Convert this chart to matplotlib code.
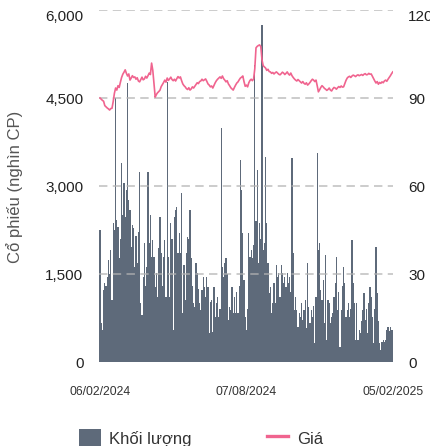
import matplotlib
matplotlib.use("Agg")
import matplotlib.pyplot as plt
from matplotlib.patches import Patch
from matplotlib.lines import Line2D
from matplotlib.ticker import FuncFormatter

plt.rcParams['font.family'] = ['Liberation Sans', 'DejaVu Sans']

# ---------------- data ----------------
date_labels = ["06/02/2024", "07/08/2024", "05/02/2025"]

# khoi luong (nghin CP), one value per trading day
volume = [
    2250, 660, 545, 1230, 1350, 1300, 1450, 1740, 1500, 1910,
    1060, 2370, 2250, 4500, 2420, 2300, 1770, 2100, 3390, 2500,
    3050, 2470, 2930, 4760, 2760, 2590, 1960, 2340, 2280, 1620,
    2150, 1690, 2220, 3240, 1000, 800, 1450, 2030, 1300, 1620,
    3240, 2030, 2510, 1790, 2080, 1790, 1280, 1520, 1110, 1950,
    2470, 1850, 1300, 1790, 2080, 1110, 4770, 1790, 1110,
    2370, 2100, 545, 2470, 2590, 2640, 1860, 2200, 1860, 2880,
    830, 1650, 1060, 1860, 2130, 2100, 2590, 1770, 1300, 1000,
    940, 1690, 1520, 1250, 1000, 890, 1230, 1450, 1280, 1100,
    1450, 1280, 500, 1020, 1060, 510, 1280, 770, 1000, 1100,
    770, 900, 3990, 1620, 1450, 1690, 1770, 1500, 720, 940,
    890, 1280, 830, 1100, 830, 1200, 830, 1300, 3440, 2930,
    2200, 1400, 770, 545, 900, 2200,
    1790, 1910, 1770, 2000, 5060, 2400, 3270, 1690, 2370, 2100,
    5750, 1910, 2030, 3500, 2370, 1690, 1180, 1280, 830, 1000,
    1350, 1000, 1650, 1450, 1520, 1100, 1650, 1520, 1350, 1450,
    1280, 1520, 1350, 1450, 1200, 3480, 1860, 890, 1100, 890,
    600, 830, 770, 1000, 720, 890, 1050, 580, 1690, 940,
    660, 890, 770, 950, 320, 1100, 3560, 1910, 2030, 1230,
    1060, 1400,
    660, 1820, 375, 1060, 1000, 660, 770, 830, 1100, 1350,
    1790, 890, 1200, 255, 890, 1300, 1620, 1350, 770, 890,
    1000, 770, 900, 2080, 1350, 1000, 375, 1000, 375, 545,
    500, 700, 890, 1180, 720, 900, 500, 1000, 1280, 1100,
    770, 320, 900, 1960, 1180, 700, 320, 200, 340, 375,
    340, 375, 545, 600, 520, 600, 545, 545,
]

# gia (nghin dong)
price = [
    90.0, 89.6, 89.2, 88.9, 87.4, 87.0, 86.6, 86.3, 85.9, 86.4,
    86.5, 88.8, 91.6, 93.4, 92.7, 94.2, 93.6, 95.4, 97.0, 98.1,
    98.8, 99.6, 98.4, 97.5, 98.2, 96.1, 96.8, 97.6, 97.0, 97.2,
    96.4, 96.9, 95.8, 95.5, 96.3, 97.1, 96.2, 96.5, 97.4, 96.8,
    97.6, 98.5, 98.0, 101.9, 99.4, 94.8, 90.3, 91.2, 91.8, 92.2,
    92.7, 93.9, 94.6, 95.3, 96.1, 95.4, 96.8, 96.0, 96.5, 97.1,
    96.3, 95.9, 96.4, 95.8, 96.6, 97.3, 96.8, 97.2, 95.9, 94.8,
    94.2, 93.8, 93.2, 92.9, 93.5, 92.7, 93.1, 93.8, 93.4, 94.0,
    94.6, 95.2, 94.9, 95.6, 95.8, 96.4, 95.9, 96.2, 96.5, 95.7,
    94.8, 94.4, 93.8, 94.1, 93.4, 94.3, 95.2, 95.9, 96.4, 96.8,
    97.2, 96.7, 97.5, 96.6, 96.1, 95.5, 95.9, 94.8, 94.2, 93.5,
    93.1, 92.7, 93.6, 94.4, 95.1, 95.5, 96.2, 96.8, 97.1, 97.5,
    95.6, 94.0, 94.4, 93.8, 95.2, 96.0, 96.4, 95.9, 96.5, 100.0,
    107.1, 107.6, 107.9, 108.1, 107.5, 103.0, 101.0, 100.6, 100.2, 99.4,
    99.8, 99.0, 98.9, 98.4, 98.7, 98.2, 98.6, 98.9, 98.5, 98.1,
    97.9, 98.3, 98.8, 98.5, 98.0, 98.4, 98.9, 98.2, 97.8, 98.5,
    97.6, 97.0, 96.5, 96.1, 95.8, 96.3, 95.9, 95.5, 95.1, 95.6,
    95.0, 94.7, 95.2, 94.4, 94.8, 95.3, 95.9, 96.4, 96.1, 95.6,
    96.1, 94.2, 92.1, 92.8, 93.6, 94.2, 93.8, 93.3, 93.0, 92.6,
    92.9, 93.4, 92.7, 92.4, 93.1, 93.6, 93.4, 93.0, 93.5, 93.9,
    93.6, 94.1, 93.7, 93.8, 94.9, 96.0, 96.8, 97.2, 97.4, 97.0,
    97.5, 97.8, 97.6, 97.3, 97.7, 97.9, 97.6, 97.8, 98.0, 97.7,
    98.1, 98.3, 97.9, 98.0, 98.4, 98.1, 98.2, 97.4, 96.6, 95.8,
    95.1, 95.6, 94.7, 95.3, 95.0, 95.5, 95.2, 95.8, 96.1, 95.7,
    96.4, 97.0, 97.6, 98.3, 98.9,
]

vol_ticks = [0, 1500, 3000, 4500, 6000]
price_ticks = [0, 30, 60, 90, 120]

bar_col = '#5e6a7a'
line_col = '#f0648f'
grid_col = '#b3b3b3'

n = len(volume)
x = list(range(n))

# ---------------- figure ----------------
fig = plt.figure(figsize=(4.31, 4.46), dpi=100)
ax = fig.add_axes([99.4 / 431, 1 - 362 / 446, 294 / 431, 352 / 446])

ax.bar(x, volume, width=0.85, color=bar_col, linewidth=0, zorder=1)
ax.set_xlim(-0.5, n - 0.5)
ax.set_ylim(0, 6000)
ax.set_yticks(vol_ticks)
ax.yaxis.set_major_formatter(FuncFormatter(lambda v, p: f"{int(v):,}"))

# dashed gridlines on top of the bars
for v in vol_ticks[1:]:
    ax.axhline(v, color=grid_col, lw=1.1, ls=(0, (5.5, 3.5)), alpha=0.85, zorder=2)

ax.set_xticks([0, n // 2, n - 1])
ax.set_xticklabels(date_labels)
ax.tick_params(axis='x', length=0, pad=17, labelsize=8.8, labelcolor='#333333')
ax.tick_params(axis='y', length=0, pad=11.5, labelsize=11, labelcolor='#222222')
for s in ax.spines.values():
    s.set_visible(False)

ax2 = ax.twinx()
ax2.plot(x, price, color=line_col, lw=1.2, zorder=3)
ax2.set_ylim(0, 120)
ax2.set_yticks(price_ticks)
ax2.tick_params(axis='y', length=0, pad=10.5, labelsize=11, labelcolor='#222222')
for s in ax2.spines.values():
    s.set_visible(False)

# top labels sit a little below the top line
ax.get_yticklabels()[-1].set_va('top')
ax2.get_yticklabels()[-1].set_va('top')

fig.text(15 / 431, 1 - 187 / 446, "Cổ phiếu (nghìn CP)", rotation=90,
         ha='center', va='center', fontsize=12, color='#555555')

handles = [Patch(facecolor=bar_col, edgecolor='none'),
           Line2D([0], [0], color=line_col, lw=2.4)]
fig.legend(handles, ["Khối lượng", "Giá"], ncol=2, loc='center',
           bbox_to_anchor=(201 / 431, 1 - 438 / 446), frameon=False,
           fontsize=12, handlelength=1.3, handleheight=1.3,
           handletextpad=0.5, columnspacing=4.5, labelcolor='#333333')

fig.savefig("out.png", dpi=100)
